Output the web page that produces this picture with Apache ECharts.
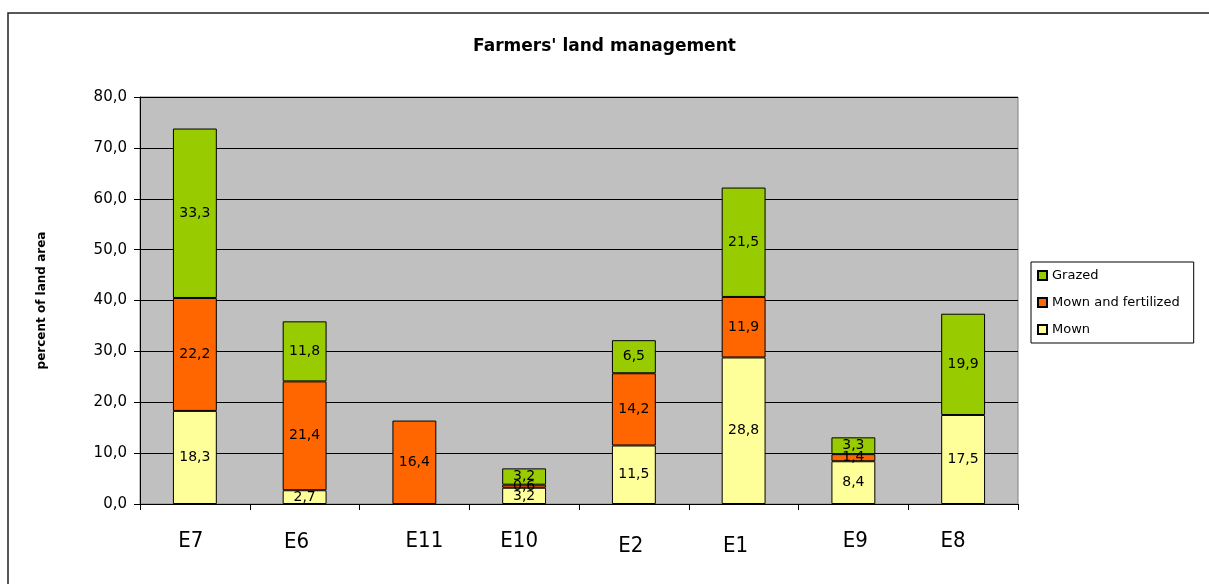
<!DOCTYPE html>
<html>
<head>
<meta charset="utf-8">
<script src="https://cdn.jsdelivr.net/npm/echarts@6/dist/echarts.min.js"></script>
<style>
html,body{margin:0;padding:0;background:#fff;}
#c{width:1209px;height:584px;}
</style>
</head>
<body>
<div id="c"></div>
<script>
const categories = ['E7','E6','E11','E10','E2','E1','E9','E8'];
const mown = [18.3, 2.7, null, 3.2, 11.5, 28.8, 8.4, 17.5];
const mownFertilized = [22.2, 21.4, 16.4, 0.6, 14.2, 11.9, 1.4, null];
const grazed = [33.3, 11.8, null, 3.2, 6.5, 21.5, 3.3, 19.9];
const yTicks = [0, 10, 20, 30, 40, 50, 60, 70, 80];

// per-label nudges [dx, dy] to mimic the reference placement
const labelNudge = [[-4,0],[-8,1],[10,0],[-5,0],[-3,5],[-8,5],[2,0],[-10,0]];

const fmt = v => v.toFixed(1).replace('.', ',');
const rich = {};
labelNudge.forEach((n, i) => {
  const dx = n[0], dy = n[1];
  rich['l' + i] = {
    fontFamily: '"DejaVu Sans Condensed"',
    fontSize: 22,
    color: '#000',
    padding: [dy, dx < 0 ? -2 * dx : 0, 0, dx > 0 ? 2 * dx : 0]
  };
});

const labelCfg = {
  show: true,
  position: 'inside',
  color: '#000',
  fontFamily: 'DejaVu Sans, sans-serif',
  fontSize: 14,
  overflow: 'none',
  formatter: p => (p.value == null || p.value === 0) ? '' : fmt(p.value)
};

function mk(name, data, color) {
  return {
    name: name,
    type: 'bar',
    stack: 'total',
    data: data,
    barWidth: '40%',
    itemStyle: { color: color, borderColor: '#000', borderWidth: 1 },
    label: labelCfg,
    labelLayout: { hideOverlap: false },
    emphasis: { disabled: true }
  };
}

const chart = echarts.init(document.getElementById('c'), null, { renderer: 'canvas' });
chart.setOption({
  animation: false,
  backgroundColor: '#fff',
  graphic: [{
    type: 'rect',
    shape: { x: 8, y: 13, width: 1400, height: 800 },
    style: { fill: 'none', stroke: '#222', lineWidth: 1.5 },
    silent: true,
    z: -10
  }],
  title: {
    text: "Farmers' land management",
    left: 'center',
    top: 33,
    textStyle: { fontFamily: 'DejaVu Sans, sans-serif', fontSize: 17, fontWeight: 'bold', color: '#000' }
  },
  legend: {
    orient: 'vertical',
    left: 1031,
    top: 262,
    padding: [7, 14, 7, 6],
    itemGap: 14,
    itemWidth: 9,
    itemHeight: 9,
    icon: 'rect',
    backgroundColor: '#fff',
    borderColor: '#000',
    borderWidth: 1,
    borderRadius: 0,
    data: ['Grazed', 'Mown and fertilized', 'Mown'],
    textStyle: { fontFamily: 'DejaVu Sans, sans-serif', fontSize: 13, color: '#000' }
  },
  grid: {
    left: 140,
    top: 97,
    width: 878,
    height: 407,
    show: true,
    backgroundColor: '#c0c0c0',
    borderColor: '#808080',
    borderWidth: 1
  },
  xAxis: {
    type: 'category',
    data: categories,
    boundaryGap: true,
    axisLine: { show: true, lineStyle: { color: '#000', width: 1 } },
    axisTick: { show: true, alignWithLabel: false, length: 6, lineStyle: { color: '#000' } },
    axisLabel: {
      margin: 26,
      interval: 0,
      formatter: (v, i) => '{l' + i + '|' + v + '}',
      rich: rich
    }
  },
  yAxis: {
    type: 'value',
    min: yTicks[0],
    max: yTicks[yTicks.length - 1],
    interval: 10,
    name: 'percent of land area',
    nameLocation: 'middle',
    nameGap: 92,
    nameTextStyle: { fontFamily: 'DejaVu Sans, sans-serif', fontSize: 12, fontWeight: 'bold', color: '#000' },
    axisLine: { show: true, lineStyle: { color: '#000', width: 1 } },
    axisTick: { show: true, inside: false, length: 6, lineStyle: { color: '#000' } },
    axisLabel: {
      margin: 13,
      color: '#000',
      fontFamily: 'DejaVu Sans, sans-serif',
      fontSize: 15,
      formatter: v => fmt(v)
    },
    splitLine: { show: true, lineStyle: { color: '#000', width: 1 } }
  },
  series: [
    mk('Mown', mown, '#ffff99'),
    mk('Mown and fertilized', mownFertilized, '#ff6600'),
    mk('Grazed', grazed, '#99cc00')
  ]
});
</script>
</body>
</html>
